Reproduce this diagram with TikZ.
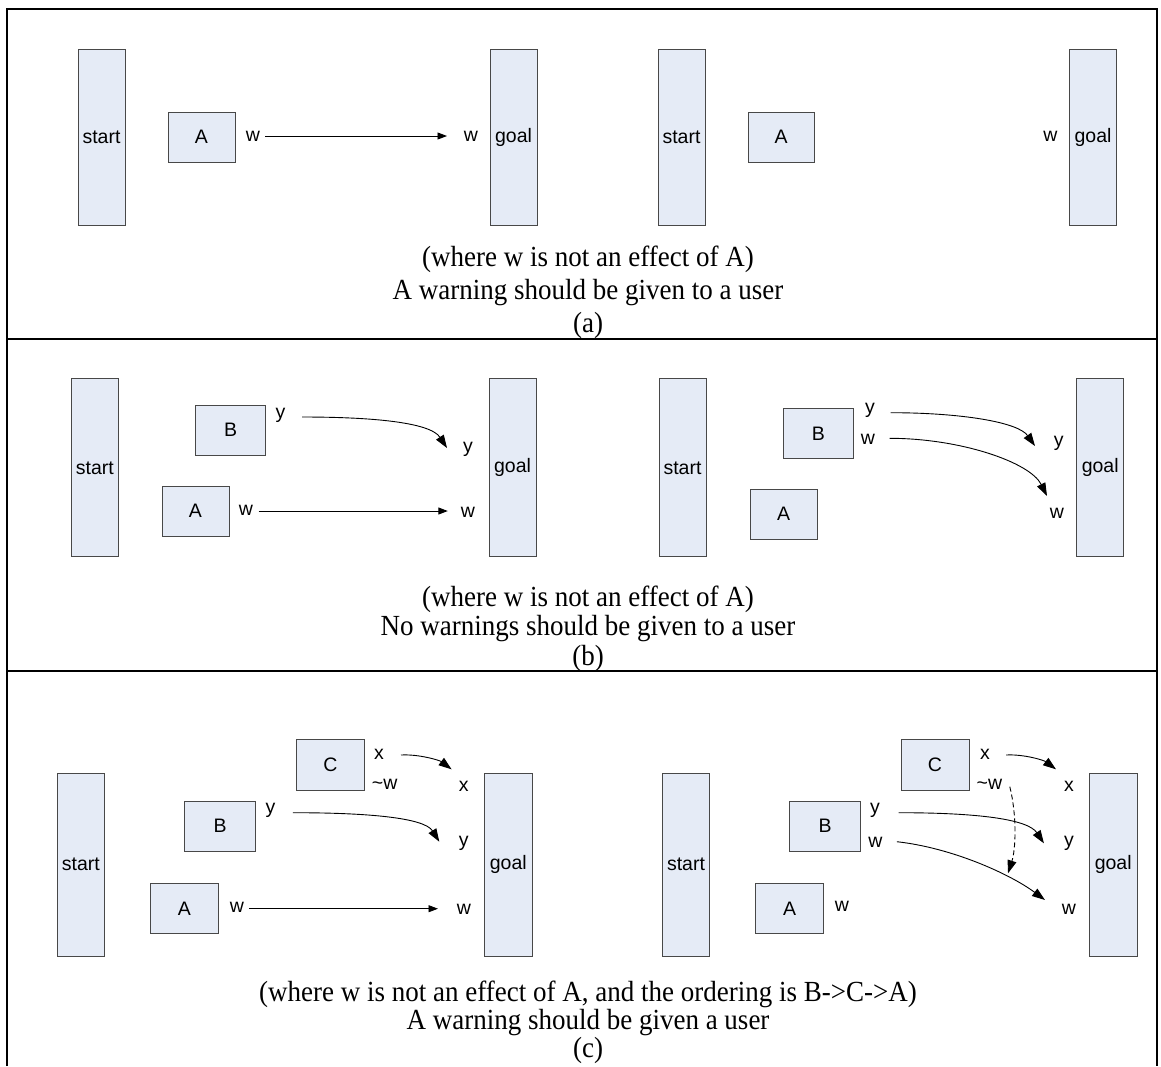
\documentclass[tikz,border=0pt]{standalone}
\usepackage{graphicx}
\usepackage{fontspec}
\setmainfont{Liberation Serif}
\newfontfamily\lsans{Liberation Sans}
\usetikzlibrary{arrows.meta,calc}
\definecolor{boxfill}{RGB}{229,235,246}
\definecolor{boxline}{RGB}{72,72,72}
% caption lines are set slightly taller than the font's natural shape
\newcommand{\capline}[1]{\scalebox{1}[1.08]{#1}}
\begin{document}
\begin{tikzpicture}[x=1pt,y=-1pt,
  panelrule/.style={line width=2pt,black},
  box/.style={draw=boxline,fill=boxfill,line width=1pt,inner sep=0pt,
    font=\lsans\fontsize{19.5}{22}\selectfont},
  bar/.style={box,minimum width=47pt,minimum height=178pt},
  act/.style={box,minimum width=68pt,minimum height=50pt},
  lbl/.style={inner sep=0pt,text height=10pt,text depth=0pt,
    font=\lsans\fontsize{19.5}{22}\selectfont},
  arr/.style={line width=0.9pt,-{Triangle[length=9.5pt,width=7pt]}},
  carr/.style={line width=0.9pt,-{Triangle[length=13pt,width=9pt]}},
  captext/.style={anchor=base,inner sep=0pt,font=\fontsize{27}{32}\selectfont}]
\useasboundingbox (0,0) rectangle (1161,1066);

% outer frame and panel dividers
\draw[panelrule] (7,1066) -- (7,9) -- (1157,9) -- (1157,1066);
\draw[panelrule] (7,338.5) -- (1157,338.5);
\draw[panelrule] (7,670.5) -- (1157,670.5);

% ---------------- panel (a) ----------------
\node[bar,minimum height=176pt] (sa1) at (101.5,137) {start};
\node[act,minimum width=67pt] (aa1) at (201.5,137) {A};
\node[bar,minimum height=176pt] (ga1) at (513.5,137) {goal};
\node[lbl] (wa1) at (253,136) {w};
\node[lbl] (wa2) at (471,136) {w};
\draw[arr] ($(wa1)+(12,0)$) -- ($(wa2)+(-24,0)$);

\node[bar,minimum height=176pt] (sa2) at (681.5,137) {start};
\node[act,minimum width=66pt] (aa2) at (781,137) {A};
\node[bar,minimum height=176pt] (ga2) at (1093,137) {goal};
\node[lbl] (wa3) at (1050.5,136) {w};

\node[captext] (capa1) at (588,266) {\capline{(where w is not an effect of A)}};
\node[captext] (capa2) at (588,299) {\capline{A warning should be given to a user}};
\node[captext] (capa3) at (588,332) {\capline{(a)}};

% ---------------- panel (b) ----------------
\node[bar] (sb1) at (94.8,467.9) {start};
\node[act,minimum width=70pt] (bb1) at (230.6,430) {B};
\node[act,minimum width=67pt] (ab1) at (195.5,511) {A};
\node[bar] (gb1) at (512.5,467.9) {goal};
\node[lbl] (yb1) at (280.5,413) {y};
\node[lbl] (yb2) at (468,447) {y};
\node[lbl] (wb3) at (246,510) {w};
\node[lbl] (wb4) at (468,512) {w};
\draw[carr] ($(yb1)+(21.5,4)$) .. controls +(68,0) and +(-17,-26) .. ($(yb2)+(-21,1)$);
\draw[arr] ($(wb3)+(12.7,1)$) -- ($(wb4)+(-20.2,-1)$);

\node[bar] (sb2) at (682.5,467.9) {start};
\node[act,minimum width=70pt] (bb2) at (818.4,433.4) {B};
\node[act,minimum width=67pt] (ab2) at (783.7,514) {A};
\node[bar,minimum width=46.5pt] (gb2) at (1100.2,467.9) {goal};
\node[lbl] (yb5) at (870,408) {y};
\node[lbl] (wb6) at (868,439) {w};
\node[lbl] (yb7) at (1058.7,441) {y};
\node[lbl] (wb8) at (1057,513) {w};
\draw[carr] ($(yb5)+(20.5,4.7)$) .. controls +(70,0) and +(-17,-24) .. ($(yb7)+(-23.7,5)$);
\draw[carr] ($(wb6)+(21.7,-0.7)$) .. controls +(70,0) and +(-17,-34) .. ($(wb8)+(-10,-17)$);

\node[captext] (capb1) at (588,606) {\capline{(where w is not an effect of A)}};
\node[captext] (capb2) at (588,635.5) {\capline{No warnings should be given to a user}};
\node[captext] (capb3) at (588,665) {\capline{(b)}};

% ---------------- panel (c) ----------------
\node[bar,minimum width=47.5pt,minimum height=183pt] (sc1) at (80.8,864.5) {start};
\node[act,minimum width=67.4pt,minimum height=51pt] (cc1) at (330.3,764.5) {C};
\node[act,minimum width=71pt] (bc1) at (220,826) {B};
\node[act] (ac1) at (184.5,908.7) {A};
\node[bar,minimum width=47.5pt,minimum height=183pt] (gc1) at (508.3,864.5) {goal};
\node[lbl] (xc1) at (379,754.3) {x};
\node[lbl] (nwc2) at (384.6,784) {\char`\~w};
\node[lbl] (xc3) at (463.8,786.7) {x};
\node[lbl] (yc4) at (270.6,808) {y};
\node[lbl] (yc5) at (463.8,841.3) {y};
\node[lbl] (wc6) at (237,907.3) {w};
\node[lbl] (wc7) at (464,909.3) {w};
\draw[carr] ($(xc1)+(22,0.7)$) .. controls +(18,-1) and +(-12,-9) .. ($(xc3)+(-12.2,-17.4)$);
\draw[carr] ($(yc4)+(22.2,4.7)$) .. controls +(75,0) and +(-15,-24) .. ($(yc5)+(-24.5,0.4)$);
\draw[arr] ($(wc6)+(11.8,1.4)$) -- ($(wc7)+(-26,-0.6)$);

\node[bar,minimum width=47.4pt,minimum height=183pt] (sc2) at (686,864.5) {start};
\node[act,minimum height=51pt] (cc2) at (935,764.5) {C};
\node[act,minimum width=71pt] (bc2) at (825,826) {B};
\node[act,minimum width=68.5pt] (ac2) at (789.5,908.7) {A};
\node[bar,minimum width=47.6pt,minimum height=183pt] (gc2) at (1113.2,864.5) {goal};
\node[lbl] (xc8) at (985,754.3) {x};
\node[lbl] (nwc9) at (989.4,784) {\char`\~w};
\node[lbl] (xc10) at (1069,786.7) {x};
\node[lbl] (yc11) at (875,808) {y};
\node[lbl] (wc12) at (875.3,842.7) {w};
\node[lbl] (yc13) at (1069,841.3) {y};
\node[lbl] (wc14) at (1069,909.3) {w};
\node[lbl] (wc15) at (842,906.7) {w};
\coordinate (threat) at (1008,873.3);
\draw[carr] ($(xc8)+(21,0.7)$) .. controls +(18,-1) and +(-12,-9) .. ($(xc10)+(-13,-17.4)$);
\draw[carr] ($(yc11)+(23.6,4.7)$) .. controls +(80,0) and +(-16,-24) .. ($(yc13)+(-25.1,2)$);
\draw[carr] ($(wc12)+(21.5,-1)$) .. controls +(55,6) and +(-35,-26) .. ($(wc14)+(-24,-9.3)$);
\draw[carr,dashed,dash pattern=on 5pt off 3pt] ($(nwc9)+(20.4,2.7)$) .. controls +(7,28) and +(8,-25) .. (threat);

\node[captext] (capc1) at (588,1001) {\capline{(where w is not an effect of A, and the ordering is B->C->A)}};
\node[captext] (capc2) at (588,1029) {\capline{A warning should be given a user}};
\node[captext] (capc3) at (588,1057) {\capline{(c)}};
\end{tikzpicture}
\end{document}
